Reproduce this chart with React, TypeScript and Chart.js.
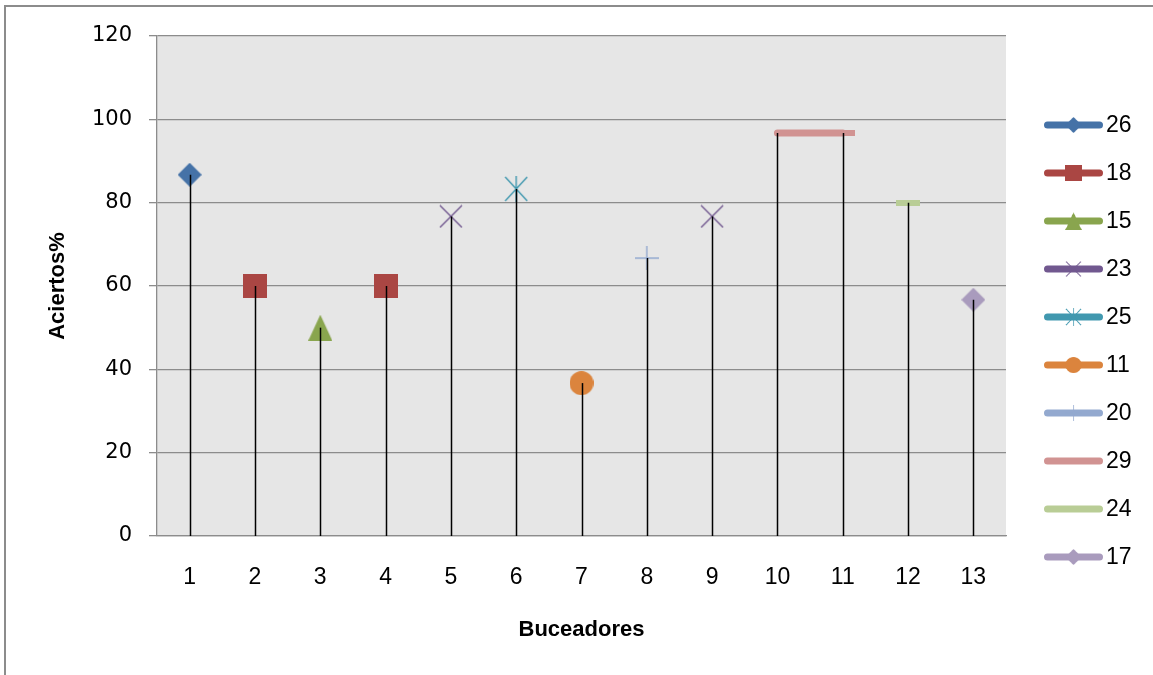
import { useEffect, useRef } from 'react';
import { Chart, registerables } from 'chart.js';

Chart.register(...registerables);

// Divers on the x axis
const buceadores = ['1', '2', '3', '4', '5', '6', '7', '8', '9', '10', '11', '12', '13'];

// Series (named by score) and their hit percentages per diver
const serieNames = ['26', '18', '15', '23', '25', '11', '20', '29', '24', '17'];
const s26 = [86.7, null, null, null, null, null, null, null, null, null, null, null, null];
const s18 = [null, 60, null, 60, null, null, null, null, null, null, null, null, null];
const s15 = [null, null, 50, null, null, null, null, null, null, null, null, null, null];
const s23 = [null, null, null, null, 76.7, null, null, null, 76.7, null, null, null, null];
const s25 = [null, null, null, null, null, 83.3, null, null, null, null, null, null, null];
const s11 = [null, null, null, null, null, null, 36.7, null, null, null, null, null, null];
const s20 = [null, null, null, null, null, null, null, 66.7, null, null, null, null, null];
const s29 = [null, null, null, null, null, null, null, null, null, 96.7, 96.7, null, null];
const s24 = [null, null, null, null, null, null, null, null, null, null, null, 80, null];
const s17 = [null, null, null, null, null, null, null, null, null, null, null, null, 56.7];
const serieValues = [s26, s18, s15, s23, s25, s11, s20, s29, s24, s17];

const yMin = 0;
const yMax = 120;
const yStep = 20;

const colors = ['#4572A7', '#AA4643', '#89A54E', '#71588F', '#4198AF', '#DB843D', '#93A9CF', '#D19392', '#B9CD96', '#A99BBD'];
const markerKinds = ['diamond', 'square', 'triangle', 'x', 'star', 'circle', 'plus', 'dash', 'dash', 'diamond'];

const GRID = '#8c8c8c';

function makeMarker(kind: string, color: string): HTMLCanvasElement {
  const dims: Record<string, [number, number]> = {
    diamond: [24, 24],
    square: [24, 24],
    triangle: [24, 26],
    x: [24, 24],
    star: [24, 26],
    circle: [24, 24],
    plus: [24, 24],
    dash: [24, 6],
  };
  const [w, h] = dims[kind];
  const c = document.createElement('canvas');
  c.width = w;
  c.height = h;
  const g = c.getContext('2d')!;
  g.fillStyle = color;
  g.strokeStyle = color;
  g.lineWidth = 1.4;
  g.beginPath();
  switch (kind) {
    case 'diamond':
      g.moveTo(w / 2, 0);
      g.lineTo(w, h / 2);
      g.lineTo(w / 2, h);
      g.lineTo(0, h / 2);
      g.closePath();
      g.fill();
      break;
    case 'square':
      g.fillRect(0, 0, w, h);
      break;
    case 'triangle':
      g.moveTo(w / 2, 0);
      g.lineTo(w, h);
      g.lineTo(0, h);
      g.closePath();
      g.fill();
      break;
    case 'x':
      g.moveTo(1, 1);
      g.lineTo(w - 1, h - 1);
      g.moveTo(w - 1, 1);
      g.lineTo(1, h - 1);
      g.stroke();
      break;
    case 'star':
      g.moveTo(1, 1);
      g.lineTo(w - 1, h - 1);
      g.moveTo(w - 1, 1);
      g.lineTo(1, h - 1);
      g.moveTo(w / 2, 0);
      g.lineTo(w / 2, h);
      g.stroke();
      break;
    case 'circle':
      g.arc(w / 2, h / 2, w / 2, 0, Math.PI * 2);
      g.fill();
      break;
    case 'plus':
      g.moveTo(0, h / 2);
      g.lineTo(w, h / 2);
      g.moveTo(w / 2, 0);
      g.lineTo(w / 2, h);
      g.stroke();
      break;
    case 'dash':
      g.fillRect(0, 0, w, h);
      break;
  }
  return c;
}

export default function App() {
  const canvasRef = useRef<HTMLCanvasElement | null>(null);

  useEffect(() => {
    const canvas = canvasRef.current;
    if (!canvas) return;
    const markers = markerKinds.map((k, i) => makeMarker(k, colors[i]));

    const plotBackground = {
      id: 'plotBackground',
      beforeDraw(chart: any) {
        const { ctx, chartArea } = chart;
        ctx.save();
        ctx.fillStyle = '#E6E6E6';
        ctx.fillRect(chartArea.left, chartArea.top, chartArea.right - chartArea.left, chartArea.bottom - chartArea.top);
        ctx.restore();
      },
    };

    const dropLines = {
      id: 'dropLines',
      afterDatasetsDraw(chart: any) {
        const { ctx } = chart;
        const base = chart.scales.y.getPixelForValue(0);
        ctx.save();
        ctx.strokeStyle = '#000';
        ctx.lineWidth = 1.5;
        chart.data.datasets.forEach((ds: any, i: number) => {
          const meta = chart.getDatasetMeta(i);
          meta.data.forEach((pt: any, j: number) => {
            if (ds.data[j] == null) return;
            ctx.beginPath();
            ctx.moveTo(Math.round(pt.x) + 0.5, pt.y);
            ctx.lineTo(Math.round(pt.x) + 0.5, base);
            ctx.stroke();
          });
        });
        ctx.restore();
      },
    };

    const sideLegend = {
      id: 'sideLegend',
      afterDraw(chart: any) {
        const { ctx } = chart;
        const x0 = 1044;
        const x1 = 1103;
        const yStart = 125;
        const gap = 48;
        const s = 0.67;
        ctx.save();
        chart.data.datasets.forEach((ds: any, i: number) => {
          const y = yStart + i * gap;
          ctx.strokeStyle = ds.borderColor;
          ctx.lineWidth = 7;
          ctx.lineCap = 'round';
          ctx.beginPath();
          ctx.moveTo(x0 + 3.5, y);
          ctx.lineTo(x1 - 3.5, y);
          ctx.stroke();
          const m = markers[i];
          const mw = m.width * s;
          const mh = m.height * s;
          ctx.drawImage(m, (x0 + x1) / 2 - mw / 2, y - mh / 2, mw, mh);
          ctx.fillStyle = '#000';
          ctx.font = '23px "Liberation Sans", Arial, sans-serif';
          ctx.textAlign = 'left';
          ctx.textBaseline = 'middle';
          ctx.fillText(ds.label, x1 + 3, y + 1);
        });
        ctx.restore();
      },
    };

    const datasets = serieNames.map((name, i) => {
      // only a series with neighbouring points draws a connecting line, so round caps there only
      const connected = serieValues[i].some((v, j, arr) => v != null && arr[j + 1] != null);
      return {
        label: name,
        data: serieValues[i],
        borderColor: colors[i],
        backgroundColor: colors[i],
        borderWidth: 7,
        borderCapStyle: (connected ? 'round' : 'butt') as CanvasLineCap,
        borderJoinStyle: 'round' as const,
        spanGaps: false,
        pointStyle: markers[i],
        pointRadius: (ctx: any) => (name === '29' && ctx.dataIndex === 9 ? 0 : 12),
        pointHoverRadius: 12,
      };
    });

    const chart = new Chart(canvas, {
      type: 'line',
      data: { labels: buceadores, datasets },
      plugins: [plotBackground, dropLines, sideLegend],
      options: {
        responsive: false,
        animation: false,
        layout: { padding: { top: 36, right: 147, bottom: 0, left: 0 } },
        plugins: {
          legend: { display: false },
          tooltip: { enabled: false },
        },
        scales: {
          x: {
            type: 'category',
            offset: true,
            grid: { display: false, drawTicks: false },
            border: { display: true, color: GRID, width: 1.3 },
            ticks: {
              color: '#000',
              padding: 28,
              font: { family: '"Liberation Sans", Arial, sans-serif', size: 23 },
              maxRotation: 0,
            },
            title: {
              display: true,
              text: 'Buceadores',
              color: '#000',
              font: { family: '"Liberation Sans", Arial, sans-serif', size: 22, weight: 'bold' },
              padding: { top: 0, bottom: 32 },
            },
            afterFit(scale: any) {
              scale.height = 139;
            },
          },
          y: {
            min: yMin,
            max: yMax,
            ticks: {
              stepSize: yStep,
              color: '#000',
              padding: 17,
              font: { family: '"DejaVu Sans", Verdana, sans-serif', size: 21 },
            },
            grid: { color: GRID, lineWidth: 1.3, tickLength: 8, drawTicks: true },
            border: { display: true, color: GRID, width: 1.3 },
            title: {
              display: true,
              text: 'Aciertos%',
              color: '#000',
              font: { family: '"Liberation Sans", Arial, sans-serif', size: 22, weight: 'bold' },
              padding: { top: 45, bottom: 0 },
            },
            afterFit(scale: any) {
              scale.width = 157;
            },
          },
        },
      },
    });

    return () => chart.destroy();
  }, []);

  return (
    <div style={{ position: 'fixed', left: 0, top: 0, width: 1153, height: 675, background: '#fff', overflow: 'hidden' }}>
      <canvas ref={canvasRef} width={1153} height={675} style={{ position: 'absolute', left: 0, top: 0, width: 1153, height: 675 }} />
      <div
        style={{
          position: 'absolute',
          left: 4,
          top: 5,
          width: 1200,
          height: 700,
          borderTop: '2px solid #8c8c8c',
          borderLeft: '2px solid #8c8c8c',
          pointerEvents: 'none',
        }}
      />
    </div>
  );
}
